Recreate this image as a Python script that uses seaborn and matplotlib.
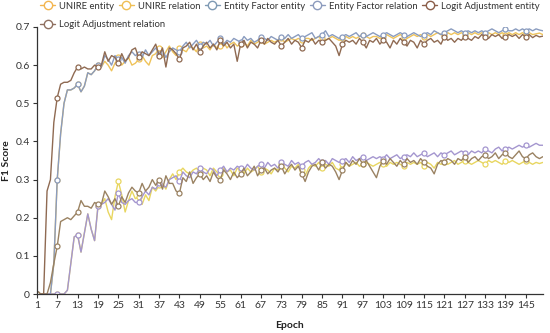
import numpy as np
import pandas as pd
import matplotlib
matplotlib.use("Agg")
import matplotlib.pyplot as plt
from matplotlib.lines import Line2D
import seaborn as sns

epochs = list(range(1, 151))

ef_entity_early = [0, 0, 0, 0, 0, 0.08, 0.30, 0.42, 0.50, 0.535,
                   0.535, 0.54, 0.55, 0.53, 0.545, 0.58, 0.575, 0.585, 0.60, 0.595]
ef_relation_early = [0, 0, 0, 0, 0, 0, 0, 0, 0, 0.01,
                     0.08, 0.15, 0.155, 0.11, 0.16, 0.21, 0.17, 0.14, 0.23, 0.235]

unire_entity = ef_entity_early + [
    0.61, 0.60, 0.585, 0.605, 0.62, 0.60, 0.61, 0.62, 0.60, 0.605,
    0.615, 0.625, 0.61, 0.60, 0.625, 0.63, 0.645, 0.62, 0.635, 0.65,
    0.635, 0.625, 0.645, 0.64, 0.635, 0.65, 0.645, 0.635, 0.655, 0.645,
    0.65, 0.64, 0.655, 0.645, 0.65, 0.66, 0.645, 0.655, 0.66, 0.65,
    0.655, 0.66, 0.65, 0.665, 0.655, 0.66, 0.665, 0.655, 0.66, 0.665,
    0.66, 0.665, 0.67, 0.66, 0.665, 0.67, 0.665, 0.67, 0.665, 0.67,
    0.67, 0.665, 0.67, 0.675, 0.67, 0.665, 0.67, 0.675, 0.67, 0.665,
    0.67, 0.675, 0.67, 0.675, 0.67, 0.675, 0.68, 0.675, 0.67, 0.675,
    0.675, 0.67, 0.675, 0.68, 0.675, 0.67, 0.675, 0.68, 0.675, 0.67,
    0.675, 0.68, 0.675, 0.68, 0.675, 0.68, 0.675, 0.68, 0.685, 0.68,
    0.68, 0.685, 0.68, 0.685, 0.68, 0.685, 0.68, 0.685, 0.68, 0.685,
    0.68, 0.685, 0.68, 0.685, 0.68, 0.685, 0.68, 0.685, 0.68, 0.685,
    0.68, 0.685, 0.68, 0.685, 0.68, 0.685, 0.68, 0.682, 0.684, 0.68]

unire_relation = ef_relation_early + [
    0.25, 0.215, 0.195, 0.255, 0.295, 0.26, 0.215, 0.245, 0.27, 0.25,
    0.255, 0.235, 0.26, 0.245, 0.28, 0.27, 0.285, 0.29, 0.275, 0.30,
    0.315, 0.30, 0.32, 0.33, 0.32, 0.315, 0.325, 0.33, 0.32, 0.33,
    0.325, 0.31, 0.33, 0.32, 0.315, 0.33, 0.32, 0.325, 0.31, 0.33,
    0.325, 0.315, 0.33, 0.32, 0.325, 0.335, 0.32, 0.33, 0.325, 0.315,
    0.33, 0.325, 0.34, 0.33, 0.32, 0.335, 0.33, 0.34, 0.325, 0.31,
    0.33, 0.34, 0.335, 0.345, 0.33, 0.34, 0.335, 0.345, 0.33, 0.325,
    0.34, 0.345, 0.335, 0.34, 0.345, 0.335, 0.34, 0.345, 0.34, 0.335,
    0.34, 0.345, 0.34, 0.335, 0.345, 0.34, 0.345, 0.34, 0.335, 0.345,
    0.34, 0.345, 0.34, 0.345, 0.335, 0.345, 0.34, 0.33, 0.345, 0.34,
    0.345, 0.34, 0.345, 0.35, 0.34, 0.345, 0.35, 0.345, 0.34, 0.345,
    0.35, 0.345, 0.34, 0.35, 0.345, 0.35, 0.345, 0.34, 0.35, 0.345,
    0.35, 0.345, 0.34, 0.345, 0.35, 0.345, 0.34, 0.345, 0.342, 0.345]

ef_entity = ef_entity_early + [
    0.625, 0.615, 0.60, 0.625, 0.615, 0.62, 0.605, 0.625, 0.635, 0.625,
    0.63, 0.62, 0.64, 0.625, 0.635, 0.645, 0.63, 0.64, 0.62, 0.635,
    0.645, 0.64, 0.635, 0.65, 0.66, 0.645, 0.655, 0.665, 0.65, 0.66,
    0.655, 0.665, 0.65, 0.66, 0.67, 0.655, 0.665, 0.66, 0.67, 0.665,
    0.66, 0.675, 0.665, 0.67, 0.66, 0.665, 0.675, 0.67, 0.665, 0.675,
    0.67, 0.665, 0.675, 0.67, 0.68, 0.67, 0.675, 0.68, 0.67, 0.675,
    0.68, 0.685, 0.67, 0.675, 0.68, 0.69, 0.675, 0.68, 0.675, 0.67,
    0.675, 0.68, 0.675, 0.68, 0.685, 0.675, 0.68, 0.675, 0.68, 0.685,
    0.68, 0.675, 0.68, 0.685, 0.68, 0.675, 0.68, 0.685, 0.68, 0.675,
    0.68, 0.685, 0.68, 0.675, 0.68, 0.685, 0.68, 0.69, 0.685, 0.68,
    0.685, 0.69, 0.695, 0.69, 0.685, 0.69, 0.685, 0.69, 0.685, 0.69,
    0.685, 0.69, 0.685, 0.69, 0.695, 0.69, 0.685, 0.69, 0.695, 0.69,
    0.69, 0.695, 0.69, 0.695, 0.69, 0.695, 0.69, 0.695, 0.692, 0.69]

ef_relation = ef_relation_early + [
    0.24, 0.25, 0.235, 0.22, 0.265, 0.24, 0.235, 0.245, 0.25, 0.24,
    0.24, 0.255, 0.27, 0.26, 0.28, 0.275, 0.29, 0.285, 0.28, 0.30,
    0.305, 0.31, 0.295, 0.32, 0.31, 0.305, 0.32, 0.315, 0.33, 0.32,
    0.315, 0.33, 0.325, 0.31, 0.325, 0.335, 0.32, 0.33, 0.325, 0.335,
    0.33, 0.325, 0.34, 0.33, 0.325, 0.335, 0.34, 0.33, 0.345, 0.335,
    0.34, 0.33, 0.345, 0.34, 0.335, 0.35, 0.34, 0.345, 0.335, 0.345,
    0.35, 0.34, 0.345, 0.355, 0.345, 0.35, 0.34, 0.355, 0.35, 0.345,
    0.35, 0.355, 0.345, 0.36, 0.35, 0.355, 0.36, 0.35, 0.355, 0.36,
    0.355, 0.36, 0.355, 0.365, 0.355, 0.36, 0.365, 0.355, 0.36, 0.365,
    0.36, 0.37, 0.36, 0.365, 0.37, 0.36, 0.365, 0.37, 0.36, 0.37,
    0.365, 0.37, 0.375, 0.365, 0.37, 0.375, 0.37, 0.365, 0.375, 0.37,
    0.375, 0.37, 0.38, 0.375, 0.37, 0.38, 0.385, 0.375, 0.38, 0.385,
    0.38, 0.385, 0.39, 0.385, 0.39, 0.385, 0.39, 0.395, 0.39, 0.39]

la_entity = [
    0, 0, 0, 0.27, 0.30, 0.45, 0.515, 0.55, 0.555, 0.555,
    0.56, 0.58, 0.595, 0.59, 0.595, 0.59, 0.59, 0.60, 0.595, 0.60,
    0.635, 0.61, 0.625, 0.62, 0.605, 0.63, 0.61, 0.62, 0.64, 0.645,
    0.62, 0.635, 0.63, 0.625, 0.64, 0.655, 0.625, 0.645, 0.595, 0.645,
    0.64, 0.63, 0.615, 0.645, 0.65, 0.66, 0.64, 0.655, 0.635, 0.65,
    0.66, 0.645, 0.655, 0.64, 0.665, 0.65, 0.66, 0.645, 0.655, 0.61,
    0.655, 0.665, 0.645, 0.66, 0.655, 0.645, 0.665, 0.655, 0.67, 0.66,
    0.655, 0.665, 0.65, 0.66, 0.67, 0.655, 0.665, 0.66, 0.645, 0.665,
    0.66, 0.67, 0.655, 0.665, 0.66, 0.665, 0.67, 0.66, 0.65, 0.625,
    0.655, 0.665, 0.66, 0.665, 0.655, 0.67, 0.66, 0.645, 0.665, 0.66,
    0.67, 0.655, 0.665, 0.66, 0.645, 0.665, 0.655, 0.67, 0.66, 0.65,
    0.665, 0.66, 0.645, 0.665, 0.655, 0.665, 0.67, 0.66, 0.665, 0.655,
    0.675, 0.665, 0.67, 0.66, 0.67, 0.665, 0.675, 0.67, 0.665, 0.675,
    0.67, 0.68, 0.675, 0.67, 0.68, 0.675, 0.68, 0.67, 0.675, 0.68,
    0.675, 0.68, 0.67, 0.68, 0.675, 0.68, 0.672, 0.678, 0.674, 0.676]

la_relation = [
    0, 0, 0, 0, 0.03, 0.08, 0.125, 0.19, 0.195, 0.20,
    0.195, 0.205, 0.215, 0.245, 0.23, 0.23, 0.225, 0.24, 0.235, 0.235,
    0.27, 0.255, 0.235, 0.25, 0.23, 0.255, 0.24, 0.265, 0.28, 0.27,
    0.265, 0.29, 0.27, 0.28, 0.30, 0.285, 0.30, 0.275, 0.31, 0.29,
    0.29, 0.27, 0.265, 0.305, 0.295, 0.32, 0.29, 0.305, 0.315, 0.30,
    0.31, 0.295, 0.32, 0.305, 0.30, 0.325, 0.315, 0.30, 0.32, 0.305,
    0.315, 0.33, 0.31, 0.32, 0.335, 0.31, 0.325, 0.33, 0.315, 0.325,
    0.33, 0.32, 0.335, 0.315, 0.33, 0.34, 0.325, 0.335, 0.315, 0.295,
    0.32, 0.335, 0.34, 0.325, 0.345, 0.33, 0.34, 0.335, 0.32, 0.30,
    0.325, 0.345, 0.335, 0.35, 0.34, 0.355, 0.34, 0.35, 0.335, 0.32,
    0.305, 0.335, 0.35, 0.34, 0.355, 0.345, 0.335, 0.35, 0.34, 0.355,
    0.345, 0.35, 0.34, 0.355, 0.345, 0.335, 0.33, 0.315, 0.34, 0.35,
    0.345, 0.355, 0.35, 0.34, 0.355, 0.35, 0.36, 0.345, 0.355, 0.36,
    0.35, 0.36, 0.365, 0.355, 0.36, 0.37, 0.355, 0.365, 0.37, 0.36,
    0.355, 0.365, 0.375, 0.36, 0.355, 0.365, 0.37, 0.36, 0.355, 0.36]

series_names = ["UNIRE entity", "UNIRE relation", "Entity Factor entity",
                "Entity Factor relation", "Logit Adjustment entity",
                "Logit Adjustment relation"]
series_values = [unire_entity, unire_relation, ef_entity, ef_relation,
                 la_entity, la_relation]
colors = ["#efc35a", "#e8d660", "#8a9cbf", "#a496cf", "#8f6a52", "#9a8262"]
legend_colors = ["#f3b54f", "#efbf55", "#7f9ab4", "#8c9bbd", "#8b5e4a", "#8f7060"]
x_ticks = list(range(1, 151, 6))

df = pd.concat([pd.DataFrame({"Epoch": epochs, "F1": v, "Series": n})
                for n, v in zip(series_names, series_values)], ignore_index=True)

sns.set_theme(style="white")
plt.rcParams["font.family"] = ["Lato", "DejaVu Sans"]

W, H = 550, 333
fig = plt.figure(figsize=(5.5, 3.33), dpi=100)
ax = fig.add_axes([0.067, 0.117, 0.92, 0.802])

sns.lineplot(data=df, x="Epoch", y="F1", hue="Series", hue_order=series_names,
             palette=colors, ax=ax, estimator=None, sort=False, linewidth=1.0,
             marker="o", markevery=6, markersize=3.6, markerfacecolor="white",
             markeredgewidth=0.9, legend=False)
for ln, c in zip(ax.lines, colors):
    ln.set_markeredgecolor(c)

ax.set_xlim(1, 150)
ax.set_ylim(0, 0.7)
ax.set_xticks(x_ticks)
ax.set_xticklabels([str(t) for t in x_ticks])
ax.set_yticks([0, 0.1, 0.2, 0.3, 0.4, 0.5, 0.6, 0.7])
ax.set_yticklabels(["0", "0.1", "0.2", "0.3", "0.4", "0.5", "0.6", "0.7"])
for s in ["top", "right"]:
    ax.spines[s].set_visible(False)
for s in ["left", "bottom"]:
    ax.spines[s].set_color("#333333")
    ax.spines[s].set_linewidth(0.9)
ax.tick_params(axis="both", which="major", labelsize=7.5, colors="#333333",
               length=3, width=0.8, direction="out", pad=2,
               bottom=True, left=True)
ax.set_xlabel("Epoch", fontsize=7.5, fontweight="bold", color="#222222", labelpad=8)
ax.set_ylabel("F1 Score", fontsize=7.5, fontweight="bold", color="#222222", labelpad=3)

handles = [Line2D([], [], color=c, linewidth=1.0, marker="o", markersize=6,
                  markerfacecolor="white", markeredgecolor=c, markeredgewidth=1.0)
           for c in legend_colors]
leg_kw = dict(frameon=False, fontsize=6.8, handlelength=1.6, handletextpad=0.45,
              borderaxespad=0.0, borderpad=0.0)
leg1 = fig.legend(handles[:5], series_names[:5], loc="upper left",
                  bbox_to_anchor=(40 / W, 1 - 5 / H, 500 / W, 0.01),
                  mode="expand", ncol=5, **leg_kw)
leg2 = fig.legend(handles[5:], series_names[5:], loc="upper left",
                  bbox_to_anchor=(40 / W, 1 - 20 / H), ncol=1, **leg_kw)
for lg in (leg1, leg2):
    for t in lg.get_texts():
        t.set_color("#333333")

fig.savefig("out.png", dpi=100)
